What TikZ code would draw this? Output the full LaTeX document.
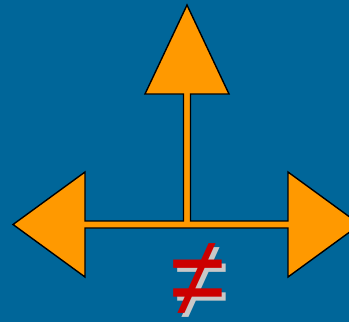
\documentclass[tikz,border=0pt]{standalone}
\usepackage{fontspec}
\newfontfamily\symfont{Liberation Sans}
\definecolor{bgblue}{HTML}{006699}
\definecolor{arroworange}{HTML}{FF9900}
\definecolor{neqred}{HTML}{CC0000}
\definecolor{shadowgray}{HTML}{C8C8C8}
\tikzset{
  arrowshape/.style={fill=arroworange, draw=black, line width=1.4pt, line join=miter},
  neqsign/.style={inner sep=0pt, anchor=base, text height=32.5pt, text depth=0pt,
    xscale=2.08, yscale=2.4, font=\symfont\fontsize{48}{48}\selectfont}
}
\begin{document}
\begin{tikzpicture}[x=1pt,y=-1pt]
\fill[bgblue] (0,0) rectangle (349,322);
\useasboundingbox (0,0) rectangle (349,322);
\begin{scope}
\clip (0,0) rectangle (349,322);
\draw[arrowshape] (13,224.5) -- (85,172) -- (85,221) -- (183.5,221) -- (183.5,94)
  -- (145,94) -- (187,5) -- (229,94) -- (190.5,94) -- (190.5,221) -- (288,221)
  -- (288,172) -- (360,224.5) -- (288,277) -- (288,228) -- (85,228) -- (85,277) -- cycle;
\end{scope}
\node[neqsign, text=shadowgray] (neqshadow) at (202,320.5) {≠};
\node[neqsign, text=neqred] (neq) at (198,316.5) {≠};
\end{tikzpicture}
\end{document}
